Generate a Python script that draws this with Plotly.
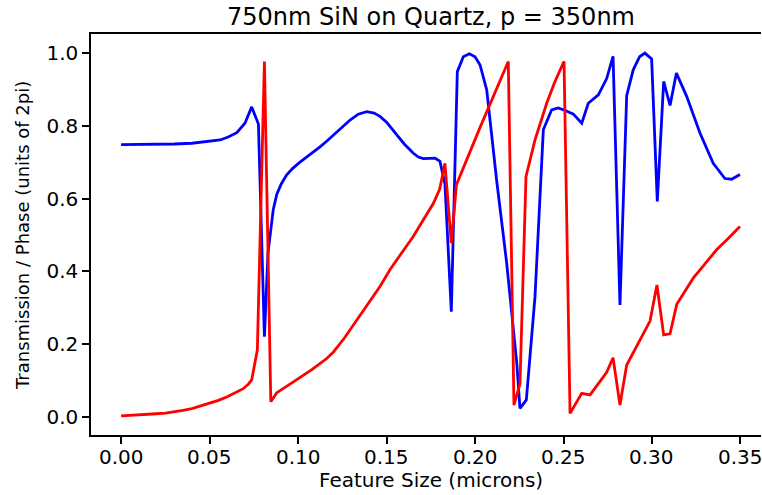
import plotly.graph_objects as go

# Transmission (blue)
trans_x = [0.000, 0.010, 0.020, 0.030, 0.040, 0.0446, 0.050, 0.056, 0.0605, 0.0654, 0.070, 0.0738,
           0.0776, 0.0810, 0.0830, 0.0844, 0.0860, 0.088, 0.0905, 0.0936, 0.0970, 0.1011, 0.1068,
           0.1124, 0.1160, 0.120, 0.1250, 0.1294, 0.1340, 0.1388, 0.1430, 0.1463, 0.1500, 0.1557,
           0.1600, 0.165, 0.1680, 0.1708, 0.1774, 0.1802, 0.1830,
           0.1866, 0.1900, 0.1934, 0.1968, 0.2000, 0.2028, 0.2066, 0.2122, 0.2179, 0.2236, 0.2254,
           0.2290, 0.2339, 0.2386, 0.2433, 0.2470, 0.2510, 0.2556, 0.2603, 0.2640, 0.2697, 0.2744,
           0.2780, 0.2819, 0.2857, 0.2894, 0.2930, 0.2960, 0.2998, 0.3030, 0.3066, 0.3102, 0.3138,
           0.3196, 0.3271, 0.3346, 0.3412, 0.3450, 0.3497]
trans_y = [0.748, 0.748, 0.749, 0.750, 0.752, 0.754, 0.757, 0.761, 0.769, 0.781, 0.807, 0.852,
           0.805, 0.220, 0.450, 0.515, 0.570, 0.612, 0.640, 0.665, 0.683, 0.700, 0.720,
           0.742, 0.757, 0.775, 0.797, 0.816, 0.832, 0.839, 0.835, 0.826, 0.810, 0.775,
           0.750, 0.725, 0.714, 0.710, 0.711, 0.702, 0.640,
           0.289, 0.949, 0.990, 0.998, 0.990, 0.968, 0.899, 0.651, 0.422, 0.147, 0.023,
           0.046, 0.330, 0.789, 0.844, 0.849, 0.842, 0.832, 0.807, 0.862, 0.885, 0.930,
           0.991, 0.307, 0.883, 0.954, 0.990, 1.000, 0.984, 0.592, 0.922, 0.856, 0.945,
           0.881, 0.780, 0.697, 0.655, 0.653, 0.666]

# Phase (red)
phase_x = [0.000, 0.005, 0.010, 0.015, 0.020, 0.025, 0.030, 0.035, 0.040, 0.045, 0.050, 0.055,
           0.060, 0.065, 0.069, 0.072, 0.0738,
           0.0770, 0.0810, 0.0846, 0.0880, 0.0950, 0.1011, 0.1080, 0.1162, 0.120, 0.1260, 0.1332,
           0.1388, 0.1463,
           0.1520, 0.1595, 0.165, 0.1765, 0.1800, 0.1830, 0.1866, 0.1895, 0.2028, 0.2188, 0.2220,
           0.2254, 0.2288, 0.2339, 0.2405, 0.2450, 0.2503, 0.2537, 0.2603, 0.2650, 0.2744, 0.2780,
           0.2819, 0.2857, 0.2970, 0.2989, 0.3028, 0.3066, 0.3102, 0.3140, 0.3233, 0.3365, 0.3422,
           0.3497]
phase_y = [0.002, 0.003, 0.004, 0.006, 0.008, 0.010, 0.013, 0.017, 0.022, 0.029, 0.036, 0.045,
           0.055, 0.066, 0.077, 0.090, 0.101,
           0.184, 0.977, 0.041, 0.066, 0.088, 0.108, 0.130, 0.160, 0.178, 0.215, 0.266,
           0.303, 0.358,
           0.405, 0.459, 0.495, 0.587, 0.625, 0.697, 0.477, 0.638, 0.795, 0.977, 0.032,
           0.090, 0.660, 0.761, 0.862, 0.920, 0.977, 0.009, 0.064, 0.060, 0.122, 0.162,
           0.032, 0.142, 0.243, 0.263, 0.362, 0.225, 0.228, 0.309, 0.381, 0.459, 0.486,
           0.523]

x_ticks = [0.00, 0.05, 0.10, 0.15, 0.20, 0.25, 0.30, 0.35]
y_ticks = [0.0, 0.2, 0.4, 0.6, 0.8, 1.0]

title_text = "750nm SiN on Quartz, p = 350nm"
x_label = "Feature Size (microns)"
y_label = "Transmission / Phase (units of 2pi)"

FONT = "DejaVu Sans"
TXT = "#000000"

fig = go.Figure()
fig.add_trace(go.Scatter(x=trans_x, y=trans_y, mode="lines",
                         line=dict(color="#0000ff", width=2.8), showlegend=False))
fig.add_trace(go.Scatter(x=phase_x, y=phase_y, mode="lines",
                         line=dict(color="#ff0000", width=2.8), showlegend=False))

W, H = 762, 495
L, R, T, B = 91, 1, 34, 60
pw = W - L - R
ph = H - T - B

fig.update_layout(
    width=W, height=H,
    margin=dict(l=L, r=R, t=T, b=B, autoexpand=False),
    paper_bgcolor="white", plot_bgcolor="white",
    font=dict(family=FONT, size=20, color=TXT),
    xaxis=dict(range=[-0.0170, 0.3616], tickvals=x_ticks, showticklabels=False,
               showgrid=False, zeroline=False, showline=True, linecolor="black",
               linewidth=1.5, mirror=True, ticks="outside", ticklen=7, tickwidth=1.5,
               tickcolor="black"),
    yaxis=dict(range=[-0.0504, 1.0525], tickvals=y_ticks,
               ticktext=[f"{v:.1f}" for v in y_ticks],
               showgrid=False, zeroline=False, showline=True, linecolor="black",
               linewidth=1.5, mirror=False, ticks="outside", ticklen=7, tickwidth=1.5,
               tickcolor="black", tickfont=dict(family=FONT, size=20, color=TXT)),
)

def px_x(p):
    return (p - L) / pw

def px_y(p):
    return (H - B - p) / ph

for v in x_ticks:
    fig.add_annotation(text=f"{v:.2f}", x=v, y=px_y(457), xref="x", yref="paper",
                       xanchor="center", yanchor="middle", showarrow=False,
                       font=dict(family=FONT, size=20, color=TXT))

fig.add_annotation(text=title_text, x=px_x(431), y=px_y(17), xref="paper", yref="paper",
                   xanchor="center", yanchor="middle", showarrow=False,
                   font=dict(family=FONT, size=24, color=TXT))
fig.add_annotation(text=x_label, x=px_x(430.5), y=px_y(480), xref="paper", yref="paper",
                   xanchor="center", yanchor="middle", showarrow=False,
                   font=dict(family=FONT, size=20, color=TXT))
fig.add_annotation(text=y_label, x=px_x(23), y=px_y(236), xref="paper", yref="paper",
                   xanchor="center", yanchor="middle", showarrow=False, textangle=-90,
                   font=dict(family=FONT, size=18, color=TXT))

fig.write_html("out.html")
